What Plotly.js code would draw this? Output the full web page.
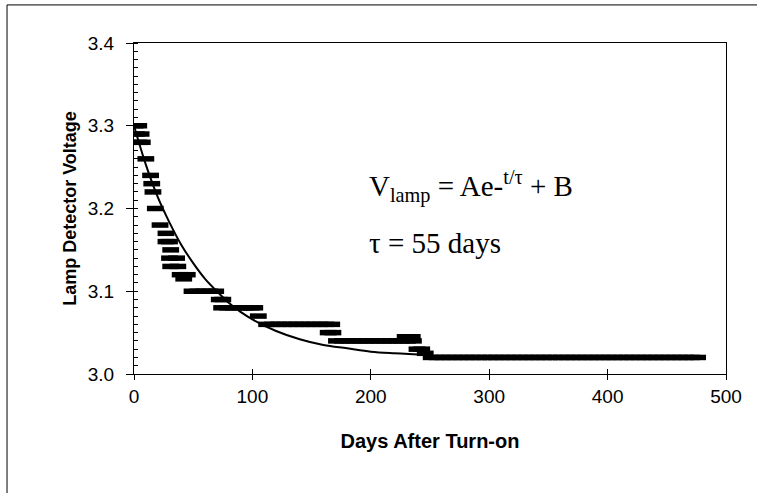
<!DOCTYPE html>
<html>
<head>
<meta charset="utf-8">
<script src="https://cdn.plot.ly/plotly-3.0.1.min.js"></script>
<style>html,body{margin:0;padding:0;background:#fff;}#chart{width:757px;height:493px;}</style>
</head>
<body>
<div id="chart"></div>
<script>
// Measured lamp detector voltage (days after turn-on, volts)
const measDays = [
  1, 4, 2, 6, 4, 7, 10, 14, 15, 16, 18, 22, 27, 27, 30, 31, 30, 36, 31, 37, 39, 45, 42,
  49, 54, 59, 64, 69,
  72, 75,
  74, 79, 84, 89, 94, 99, 102,
  105,
  112, 117, 122, 127, 132, 137, 142, 147, 152, 157, 162, 167,
  164, 168,
  171, 176, 181, 186, 191, 196, 201, 206, 211, 216, 221, 226, 231, 236,
  229, 235,
  239, 243, 246,
  251, 256, 261, 266, 271, 276, 281, 286, 291, 296, 301, 306, 311, 316, 321, 326,
  331, 336, 341, 346, 351, 356, 361, 366, 371, 376, 381, 386, 391, 396, 401, 406,
  411, 416, 421, 426, 431, 436, 441, 446, 451, 456, 461, 466, 471, 476
];
const measVolts = [
  3.30, 3.30, 3.29, 3.29, 3.28, 3.28, 3.26, 3.24, 3.23, 3.22, 3.20, 3.18, 3.17, 3.16, 3.16, 3.15, 3.14, 3.14, 3.13, 3.13, 3.12, 3.12, 3.115,
  3.10, 3.10, 3.10, 3.10, 3.10,
  3.09, 3.09,
  3.08, 3.08, 3.08, 3.08, 3.08, 3.08, 3.08,
  3.07,
  3.06, 3.06, 3.06, 3.06, 3.06, 3.06, 3.06, 3.06, 3.06, 3.06, 3.06, 3.06,
  3.05, 3.05,
  3.04, 3.04, 3.04, 3.04, 3.04, 3.04, 3.04, 3.04, 3.04, 3.04, 3.04, 3.04, 3.04, 3.04,
  3.045, 3.045,
  3.03, 3.03, 3.025,
  3.02, 3.02, 3.02, 3.02, 3.02, 3.02, 3.02, 3.02, 3.02, 3.02, 3.02, 3.02, 3.02, 3.02, 3.02, 3.02,
  3.02, 3.02, 3.02, 3.02, 3.02, 3.02, 3.02, 3.02, 3.02, 3.02, 3.02, 3.02, 3.02, 3.02, 3.02, 3.02,
  3.02, 3.02, 3.02, 3.02, 3.02, 3.02, 3.02, 3.02, 3.02, 3.02, 3.02, 3.02, 3.02, 3.02
];

// Fitted curve V = A e^(-t/tau) + B
const fitDays  = [0, 10, 20, 30, 40, 50, 60, 70, 80, 90, 100, 120, 140, 160, 180, 200, 220, 250];
const fitVolts = [3.300, 3.253, 3.214, 3.183, 3.156, 3.134, 3.115, 3.100, 3.086, 3.075, 3.066, 3.052, 3.042, 3.035, 3.031, 3.027, 3.025, 3.023];

const xTickVals = [0, 100, 200, 300, 400, 500];
const yTickVals = [3.0, 3.1, 3.2, 3.3, 3.4];
const xTitle = 'Days After Turn-on';
const yTitle = 'Lamp Detector Voltage';
const eqLine1 = 'V<sub>lamp</sub> = Ae-<sup>t/τ</sup> + B';
const eqLine2 = 'τ = 55 days';

const sans = 'Liberation Sans, Arial, sans-serif';
const serif = 'Liberation Serif, Times New Roman, serif';

const traces = [
  {
    x: measDays, y: measVolts, type: 'scatter', mode: 'markers', name: 'Measured',
    marker: {symbol: 'line-ew', size: 12, color: '#000', line: {color: '#000', width: 5.5}},
    hoverinfo: 'x+y'
  },
  {
    x: fitDays, y: fitVolts, type: 'scatter', mode: 'lines', name: 'Fit',
    line: {color: '#000', width: 2, shape: 'spline', smoothing: 1.0}
  },
  {x: [], y: [], xaxis: 'x2', yaxis: 'y', type: 'scatter', mode: 'markers', showlegend: false, hoverinfo: 'skip'}
];

const layout = {
  width: 757, height: 493,
  margin: {l: 134, r: 31, t: 43, b: 119},
  paper_bgcolor: '#fff', plot_bgcolor: '#fff',
  showlegend: false,
  font: {family: sans, color: '#000', size: 19},
  xaxis: {
    range: [0, 500], tickvals: xTickVals, ticktext: xTickVals.map(String),
    showgrid: false, zeroline: false,
    showline: true, linecolor: '#000', linewidth: 1, mirror: true,
    ticks: 'outside', ticklen: 5, tickcolor: '#000', tickwidth: 1,
    tickfont: {family: sans, size: 19, color: '#000'},
    title: {text: '<b>' + xTitle + '</b>', font: {family: sans, size: 20, color: '#000'}, standoff: 28}
  },
  xaxis2: {
    overlaying: 'x', anchor: 'y', range: [0, 500], tickvals: xTickVals,
    showticklabels: false, showgrid: false, zeroline: false, showline: false,
    ticks: 'inside', ticklen: 5, tickcolor: '#000', tickwidth: 1
  },
  yaxis: {
    range: [3.0, 3.4], tickvals: yTickVals, ticktext: yTickVals.map(v => v.toFixed(1)),
    showgrid: false, zeroline: false,
    showline: true, linecolor: '#000', linewidth: 1, mirror: true,
    ticks: 'outside', ticklen: 7, tickcolor: '#000', tickwidth: 1,
    ticklabelstandoff: 8,
    tickfont: {family: sans, size: 19, color: '#000'},
    minor: {dtick: 0.01, ticks: 'inside', ticklen: 4, tickcolor: '#000', showgrid: false},
    title: {text: '<b>' + yTitle + '</b>', font: {family: sans, size: 18, color: '#000'}, standoff: 6}
  },
  annotations: [
    {xref: 'paper', yref: 'paper', x: 0.394, y: 0.565, xanchor: 'left', yanchor: 'middle',
     text: eqLine1, showarrow: false, font: {family: serif, size: 29, color: '#000'}},
    {xref: 'paper', yref: 'paper', x: 0.394, y: 0.396, xanchor: 'left', yanchor: 'middle',
     text: eqLine2, showarrow: false, font: {family: serif, size: 29, color: '#000'}}
  ],
  shapes: [
    {type: 'line', xref: 'paper', yref: 'paper', x0: -0.2145, x1: 1.06, y0: 1.115, y1: 1.115, line: {color: '#000', width: 1}},
    {type: 'line', xref: 'paper', yref: 'paper', x0: -0.2145, x1: -0.2145, y0: 1.115, y1: -0.37, line: {color: '#000', width: 1}}
  ]
};

Plotly.newPlot('chart', traces, layout, {displayModeBar: false, staticPlot: true});
</script>
</body>
</html>
